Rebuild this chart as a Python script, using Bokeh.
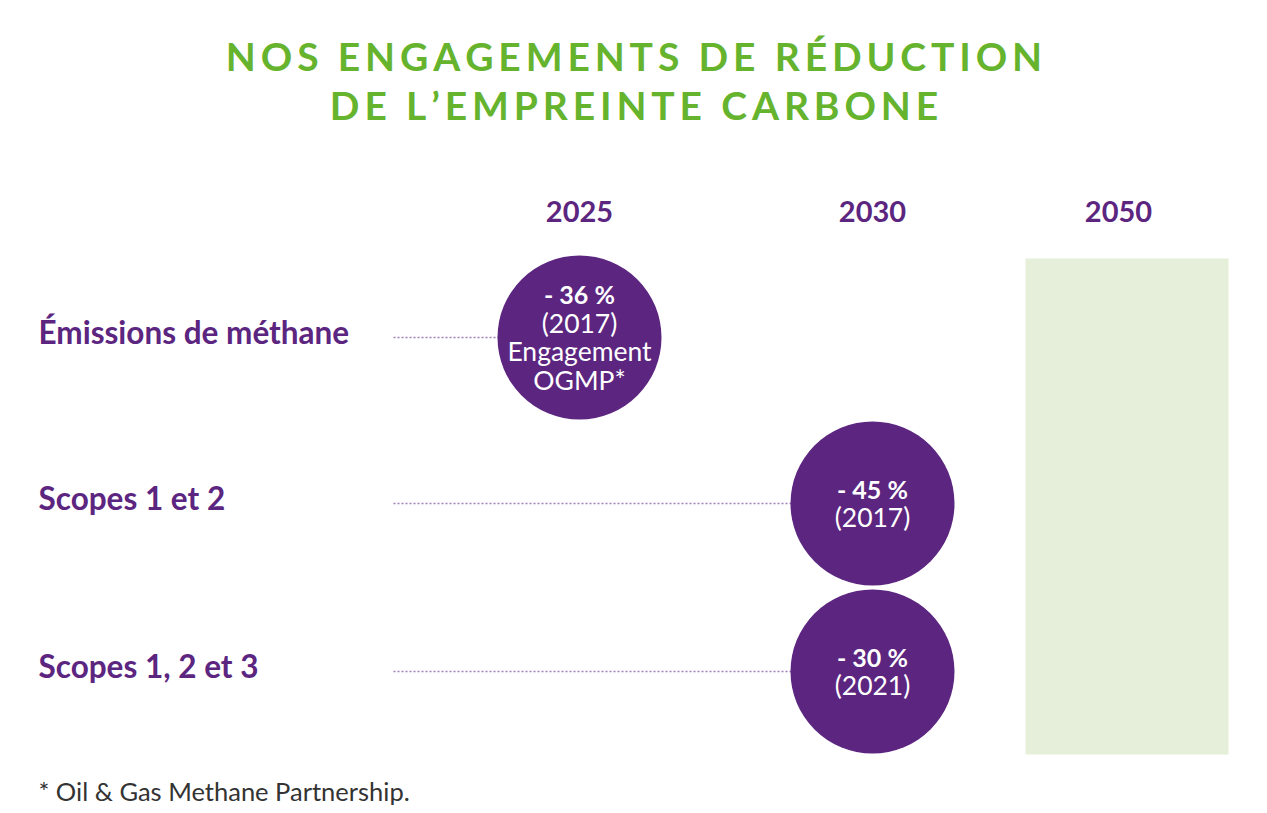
from bokeh.plotting import figure
from bokeh.models import Range1d, ColumnDataSource
from bokeh.core.properties import value
from bokeh.embed import file_html
from bokeh.resources import INLINE

# ---- data ----
title_lines = ["NOS ENGAGEMENTS DE RÉDUCTION", "DE L’EMPREINTE CARBONE"]
years = ["2025", "2030", "2050"]
categories = ["Émissions de méthane", "Scopes 1 et 2", "Scopes 1, 2 et 3"]
target_year = ["2025", "2030", "2030"]
reduction_pct = [-36, -45, -30]
base_year = [2017, 2017, 2021]
extra_note = [["Engagement", "OGMP*"], [], []]
footnote = "* Oil & Gas Methane Partnership."

# ---- layout / style ----
W, H = 1251, 805
PURPLE = "#5b2580"
GREEN = "#66b32e"
LIGHT_GREEN = "#e5efda"
DOT = "#9f80ba"
FONT = value("Lato")
col_x = [579, 872, 1118]          # pixel centre of each year column
row_y = [337, 503, 671]           # pixel centre of each category row
radius = 82
label_x = 38
dots_start = 393
box_top, box_bottom, box_left, box_right = 258, 754, 1025, 1228

def spaced(s):
    return "\u2009".join(list(s))

p = figure(width=W, height=H, x_range=Range1d(0, W), y_range=Range1d(H, 0),
           x_axis_type=None, y_axis_type=None, toolbar_location=None,
           output_backend="svg", min_border=0, outline_line_color=None,
           background_fill_color="white", border_fill_color="white")
p.grid.visible = False

# title
p.text(x=[W / 2 + 8] * 2, y=[55, 104], text=[spaced(t) for t in title_lines],
       text_align="center", text_baseline="alphabetic", text_font=FONT,
       text_font_size="39px", text_font_style="bold", text_color=GREEN)

# 2050 column band
p.quad(left=[box_left], right=[box_right], top=[box_top], bottom=[box_bottom],
       fill_color=LIGHT_GREEN, line_color=None)

# year headers
p.text(x=col_x, y=[211] * len(years), text=years, text_align="center",
       text_baseline="middle", text_font=FONT, text_font_size="29px",
       text_font_style="bold", text_color=PURPLE)

# row labels
p.text(x=[label_x] * len(categories), y=[y - 6 for y in row_y], text=categories,
       text_align="left", text_baseline="middle", text_font=FONT,
       text_font_size="31.5px", text_font_style="bold", text_color=PURPLE)

# dotted leaders + circles
cx = [col_x[years.index(t)] for t in target_year]
src = ColumnDataSource(dict(x=cx, y=row_y))
p.segment(x0=[dots_start] * len(categories), y0=row_y, x1=cx, y1=row_y,
          line_color=DOT, line_width=1.5, line_dash="2 2")
p.circle(x="x", y="y", radius=radius, source=src, fill_color=PURPLE,
         line_color=None)

# circle texts
bx, by, bt, nx, ny, nt = [], [], [], [], [], []
step = 28.5
for i in range(len(categories)):
    lines = [f"- {abs(reduction_pct[i])}\u202f%", f"({base_year[i]})"] + extra_note[i]
    n = len(lines)
    for k, ln in enumerate(lines):
        yy = row_y[i] - 0.5 + (k - (n - 1) / 2) * step
        if k == 0:
            bx.append(cx[i]); by.append(yy); bt.append(ln)
        else:
            nx.append(cx[i]); ny.append(yy); nt.append(ln)
p.text(x=bx, y=by, text=bt, text_align="center", text_baseline="middle",
       text_font=FONT, text_font_size="25px", text_font_style="bold",
       text_color="white")
p.text(x=nx, y=ny, text=nt, text_align="center", text_baseline="middle",
       text_font=FONT, text_font_size="26.5px", text_color="white")

# footnote
p.text(x=[label_x], y=[790], text=[footnote], text_align="left",
       text_baseline="middle", text_font=FONT, text_font_size="25.5px",
       text_color="#333333")

open("out.html", "w").write(file_html(p, INLINE))
